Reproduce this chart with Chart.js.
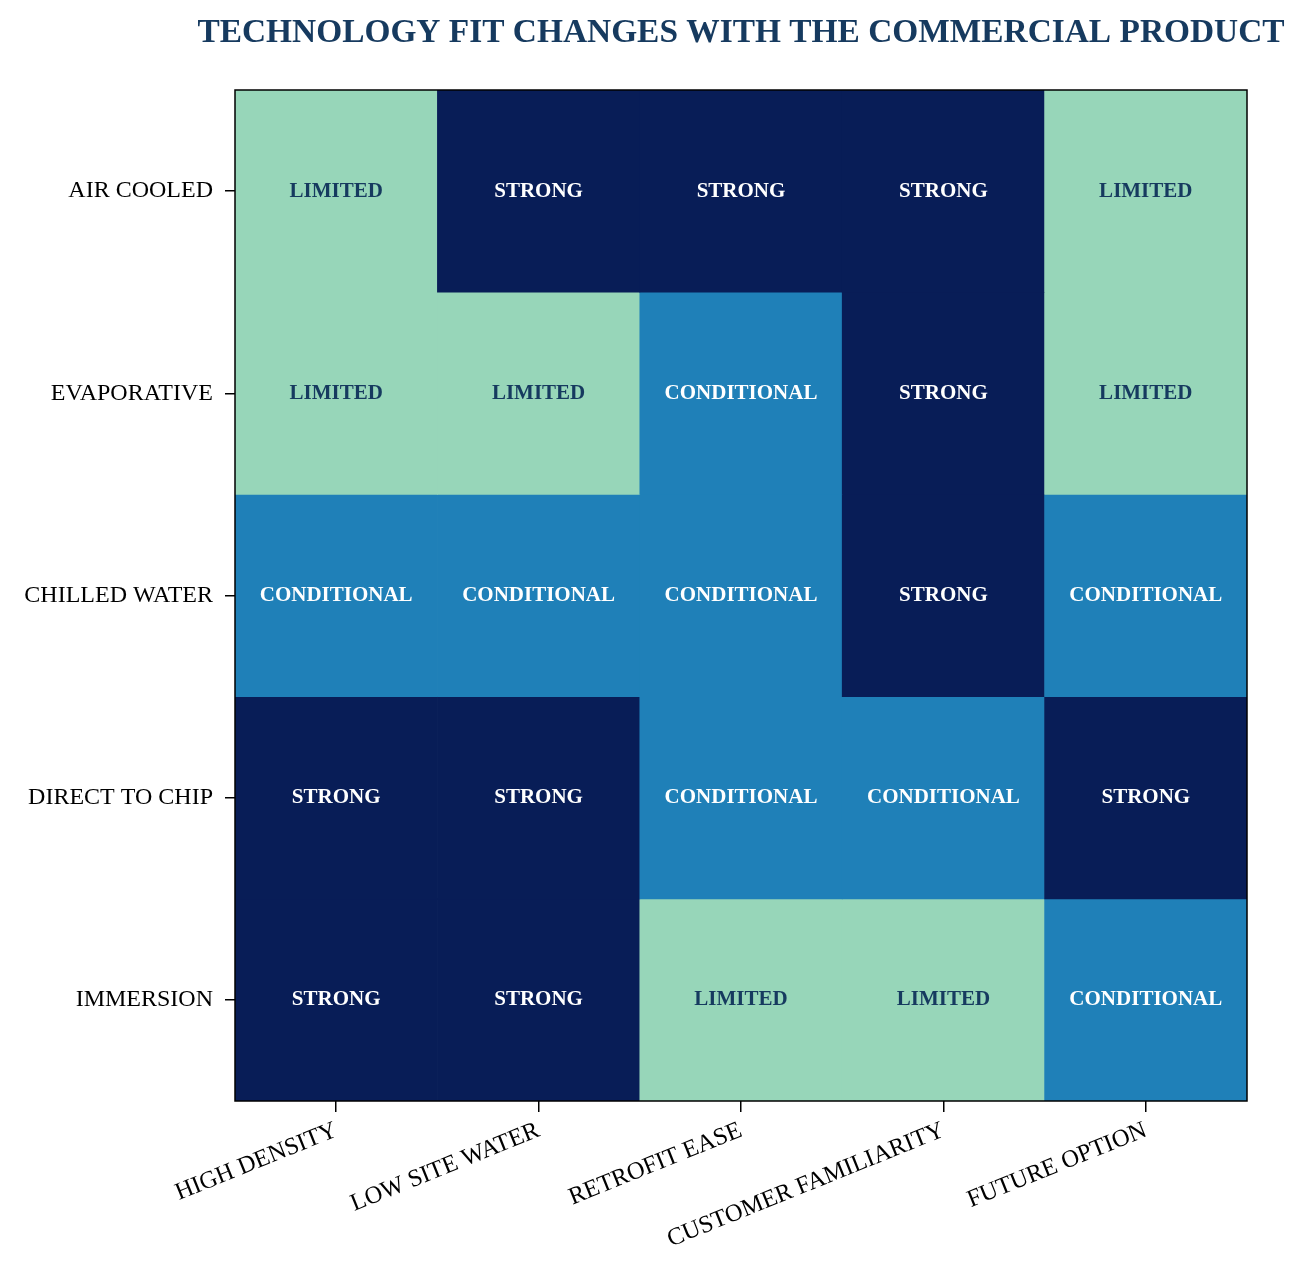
<!DOCTYPE html>
<html>
<head>
<meta charset="utf-8">
<script src="https://cdn.jsdelivr.net/npm/chart.js@4"></script>
<style>
  body { margin: 0; background: #fff; }
  #wrap { width: 1308px; height: 1277px; }
</style>
</head>
<body>
<div id="wrap"><canvas id="fitHeatmap"></canvas></div>
<script>
// technologies (rows, top to bottom) and criteria (columns)
const technologies = ["AIR COOLED", "EVAPORATIVE", "CHILLED WATER", "DIRECT TO CHIP", "IMMERSION"];
const criteria = ["HIGH DENSITY", "LOW SITE WATER", "RETROFIT EASE", "CUSTOMER FAMILIARITY", "FUTURE OPTION"];
const levelNames = ["LIMITED", "CONDITIONAL", "STRONG"];
const levelColors = ['#97d6b9', '#1f80b8', '#081d57'];
const levelTextColors = ['#163a5f', '#ffffff', '#ffffff'];
const chartTitle = 'TECHNOLOGY FIT CHANGES WITH THE COMMERCIAL PRODUCT';

// fit level per row: 0 limited, 1 conditional, 2 strong
const airCooled    = [0, 2, 2, 2, 0];
const evaporative  = [0, 0, 1, 2, 0];
const chilledWater = [1, 1, 1, 2, 1];
const directToChip = [2, 2, 1, 1, 2];
const immersion    = [2, 2, 0, 0, 1];
const fitRows = [airCooled, evaporative, chilledWater, directToChip, immersion];

const serif = "'Liberation Serif', 'Times New Roman', serif";

const datasets = fitRows.map((row, r) => ({
    label: technologies[r],
    data: row.map(() => 1),
    levels: row,
    backgroundColor: row.map(l => levelColors[l]),
    borderWidth: 0,
    barPercentage: 1,
    categoryPercentage: 1
}));

// cell labels, frame and a title centred over the plot (wider than the plot)
const cellText = {
    id: 'cellText',
    afterDatasetsDraw(chart) {
        const ctx = chart.ctx;
        const a = chart.chartArea;
        ctx.save();
        ctx.font = "bold 21px " + serif;
        ctx.textAlign = 'center';
        ctx.textBaseline = 'middle';
        chart.data.datasets.forEach((ds, i) => {
            chart.getDatasetMeta(i).data.forEach((bar, j) => {
                const p = bar.getCenterPoint();
                ctx.fillStyle = levelTextColors[ds.levels[j]];
                ctx.fillText(levelNames[ds.levels[j]], p.x, p.y);
            });
        });
        ctx.strokeStyle = '#000';
        ctx.lineWidth = 1.5;
        ctx.strokeRect(a.left, a.top, a.right - a.left, a.bottom - a.top);

        ctx.font = "bold 33.4px " + serif;
        ctx.fillStyle = '#163a5f';
        ctx.fillText(chartTitle, (a.left + a.right) / 2, 33);
        ctx.restore();
    }
};

new Chart(document.getElementById('fitHeatmap'), {
    type: 'bar',
    data: { labels: criteria, datasets: datasets },
    plugins: [cellText],
    options: {
        responsive: true,
        maintainAspectRatio: false,
        animation: false,
        layout: { padding: { left: 0, right: 61, top: 90, bottom: 0 } },
        plugins: {
            legend: { display: false },
            tooltip: { enabled: false },
            title: { display: false }
        },
        scales: {
            x: {
                stacked: true,
                offset: true,
                grid: { offset: false, drawOnChartArea: false, tickLength: 11, color: '#000', lineWidth: 1.5 },
                border: { display: false },
                ticks: {
                    color: '#000',
                    font: { family: serif, size: 24.5 },
                    maxRotation: 22, minRotation: 22,
                    padding: 4
                },
                afterFit(scale) { scale.height = 176; }
            },
            y: {
                stacked: true,
                min: 0, max: 5,
                reverse: true,
                grid: { drawOnChartArea: false, tickLength: 10, color: '#000', lineWidth: 1.5 },
                border: { display: false },
                afterBuildTicks(scale) {
                    scale.ticks = technologies.map((t, i) => ({ value: i + 0.5 }));
                },
                ticks: {
                    color: '#000',
                    font: { family: serif, size: 24 },
                    padding: 12,
                    callback: v => technologies[Math.floor(v)]
                },
                afterFit(scale) { scale.width = 235; }
            }
        }
    }
});
</script>
</body>
</html>
